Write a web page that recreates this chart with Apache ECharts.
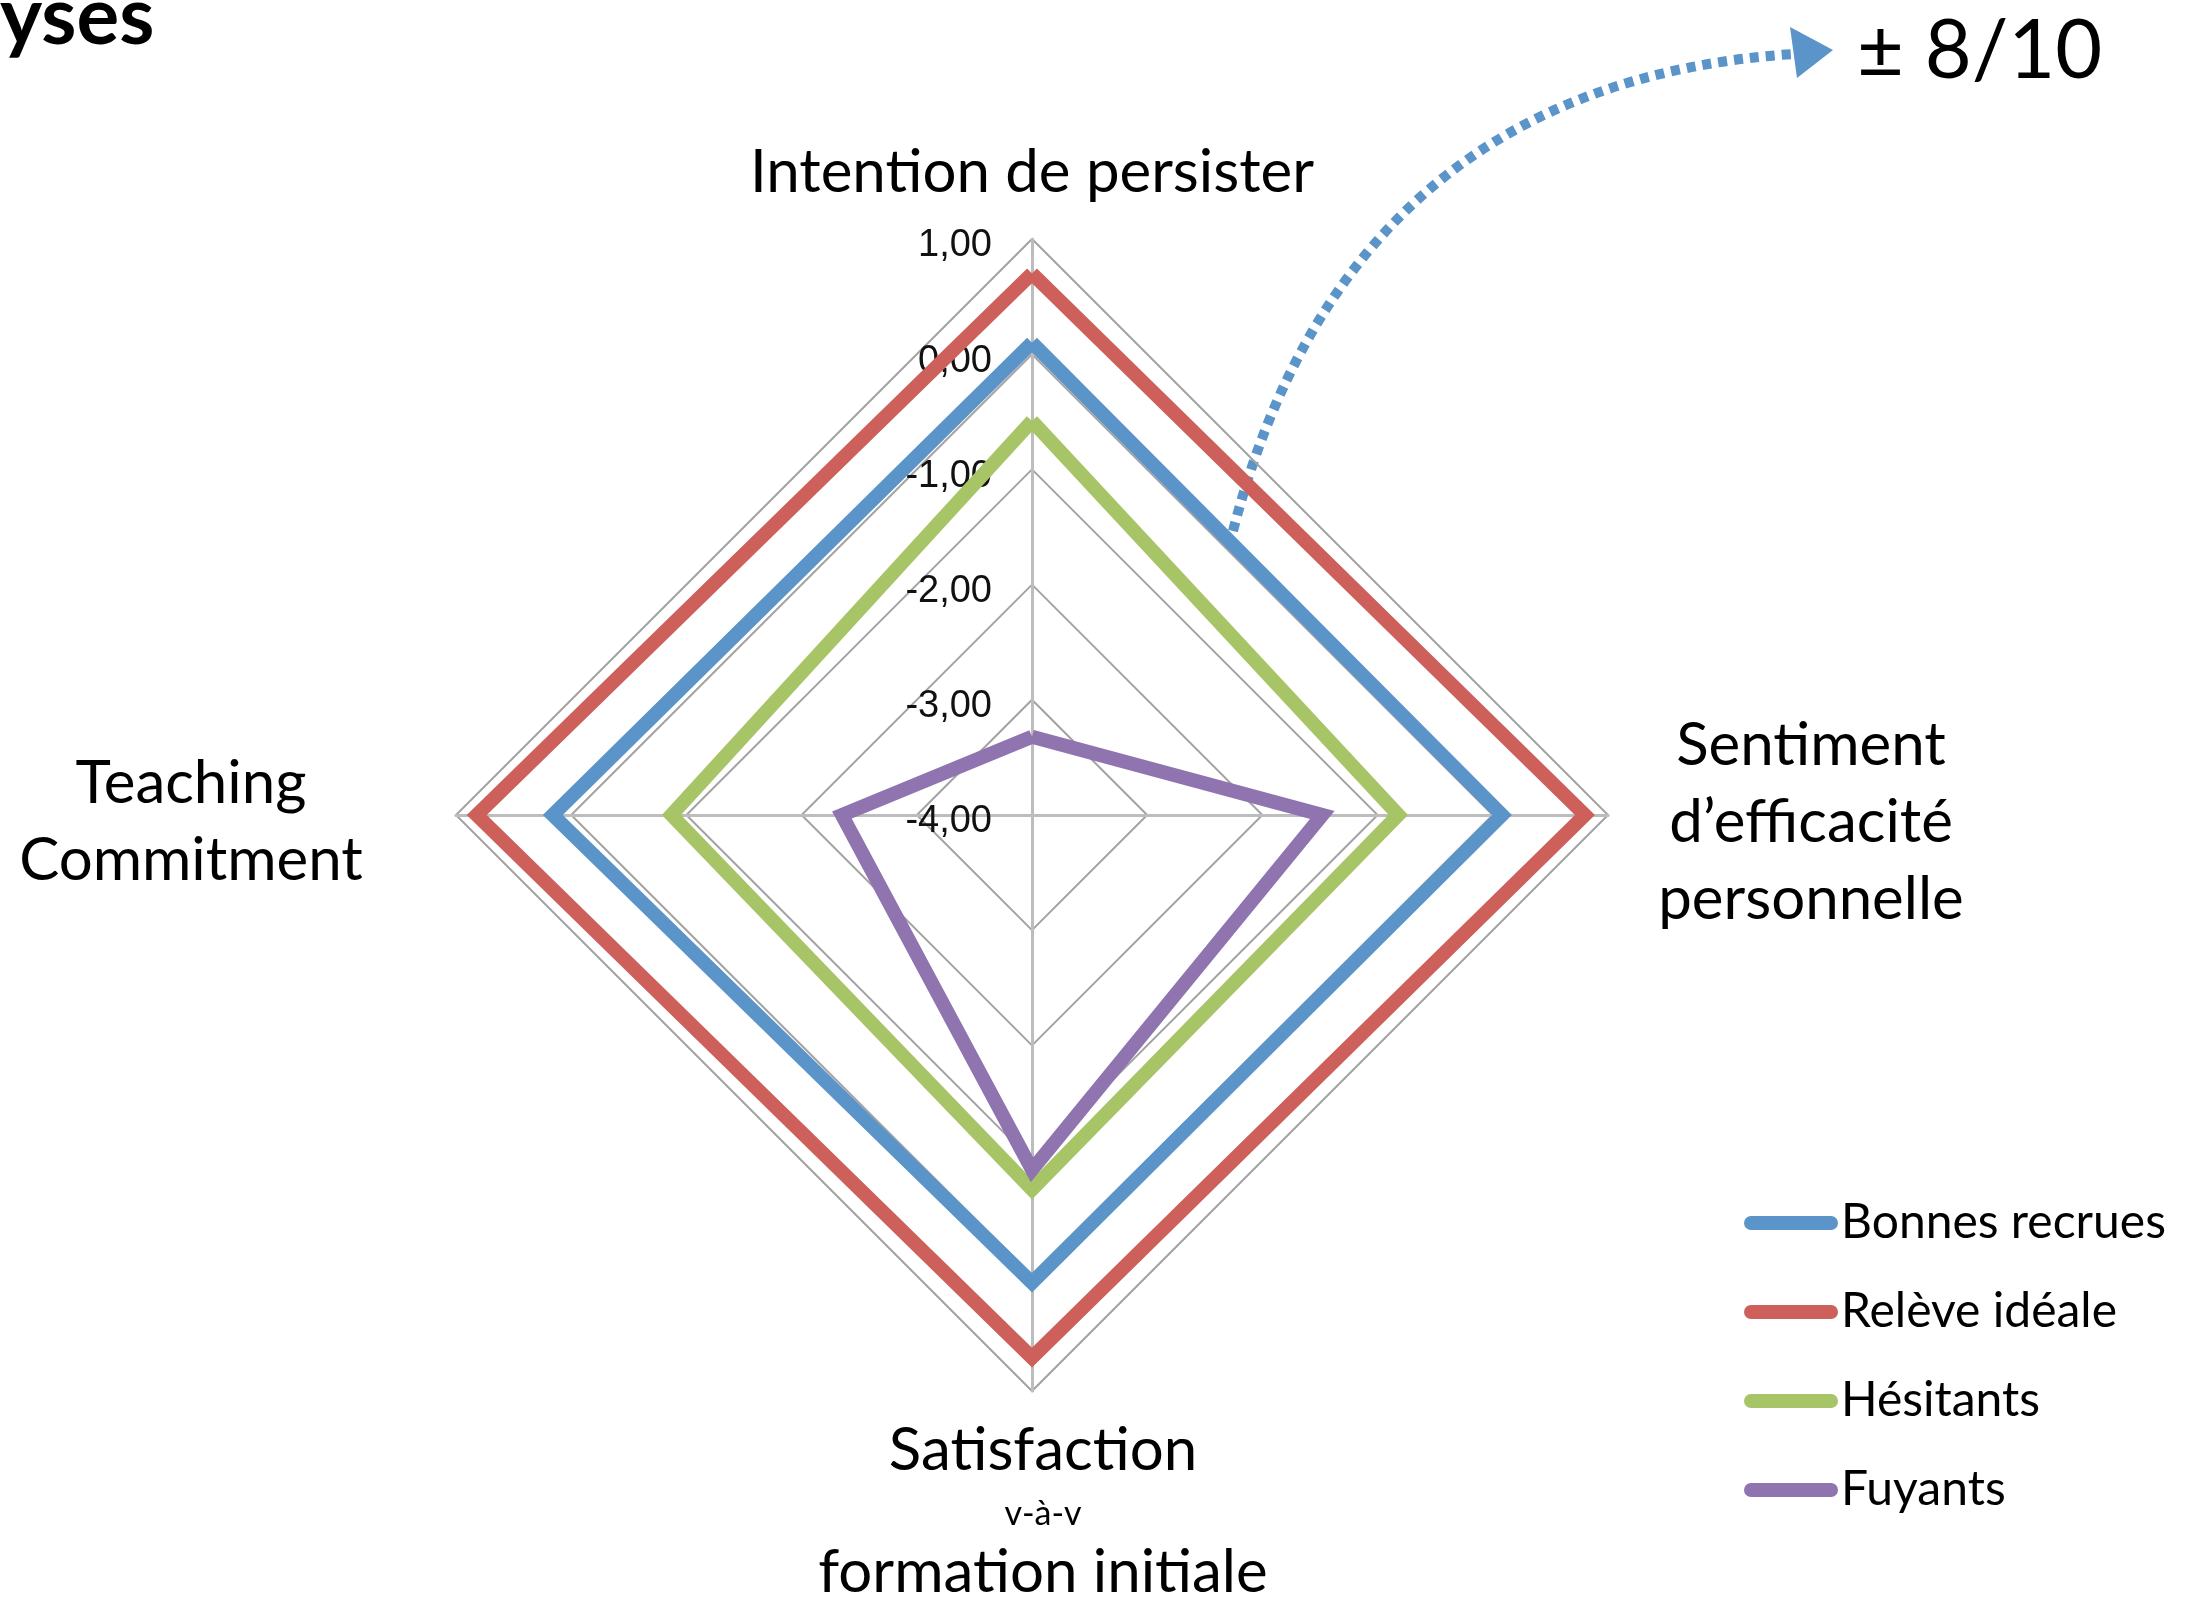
<!DOCTYPE html>
<html>
<head>
<meta charset="utf-8">
<script src="https://cdn.jsdelivr.net/npm/echarts@6/dist/echarts.min.js"></script>
<style>
  html, body { margin: 0; padding: 0; background: #fff; }
  #chart { width: 2202px; height: 1600px; }
</style>
</head>
<body>
<div id="chart"></div>
<script>
// axes, in radar order (top, left, bottom, right)
const indicatorNames = [
  'Intention de persister',
  'Teaching\nCommitment',
  'Satisfaction\nv-à-v\nformation initiale',
  'Sentiment\nd’efficacité\npersonnelle'
]
const axisMin = -4
const axisMax = 1

const seriesNames = ['Bonnes recrues', 'Relève idéale', 'Hésitants', 'Fuyants']
const seriesColors = ['#5b94c9', '#cd605a', '#a7c466', '#8f74b0']

const bonnesRecrues = [0.10, 0.16, 0.06, 0.08]
const releveIdeale = [0.70, 0.82, 0.71, 0.80]
const hesitants = [-0.58, -0.87, -0.75, -0.82]
const fuyants = [-3.32, -2.35, -0.92, -1.48]

const seriesValues = [bonnesRecrues, releveIdeale, hesitants, fuyants]

const chart = echarts.init(document.getElementById('chart'))

// name styles per axis (line keys)
const nameKeys = [
  ['t'],
  ['l', 'l'],
  ['b1', 's', 'b2'],
  ['r', 'r', 'r']
]

const nameFont = { fontFamily: 'Lato', fontSize: 60, color: '#000', align: 'center' }

const option = {
  animation: false,
  backgroundColor: '#fff',
  legend: {
    orient: 'vertical',
    left: 1739,
    top: 1194,
    itemWidth: 94,
    itemHeight: 14,
    itemGap: 41,
    icon: 'path://M7,0 H87 A7,7 0 0 1 87,14 H7 A7,7 0 0 1 7,0 Z',
    textStyle: {
      fontFamily: 'Lato',
      fontSize: 48,
      color: '#000',
      lineHeight: 48,
      padding: [0, 0, 0, -2]
    },
    data: seriesNames
  },
  radar: {
    center: [1032, 815],
    radius: 576,
    startAngle: 90,
    shape: 'polygon',
    splitNumber: 5,
    nameGap: 30,
    indicator: indicatorNames.map((name, i) => ({
      name: name,
      min: axisMin,
      max: axisMax,
      axisLabel: { show: i === 0 }
    })),
    axisName: {
      color: '#000',
      formatter: (value) => {
        const idx = indicatorNames.indexOf(value)
        return value.split('\n').map((line, j) => '{' + nameKeys[idx][j] + '|' + line + '}').join('\n')
      },
      rich: {
        t: { ...nameFont, lineHeight: 72, padding: [0, 0, 0, 0] },
        l: { ...nameFont, lineHeight: 77, width: 470, padding: [14, 0, 0, 0] },
        r: { ...nameFont, lineHeight: 77, width: 346, padding: [16, 0, 0, 0] },
        b1: { ...nameFont, lineHeight: 60, width: 420, padding: [0, 0, 0, 22] },
        s: { ...nameFont, fontSize: 34, lineHeight: 66, width: 420, padding: [0, 0, 0, 22] },
        b2: { ...nameFont, lineHeight: 52, width: 420, padding: [0, 0, 0, 22] }
      }
    },
    axisLabel: {
      show: true,
      margin: 40,
      color: '#111',
      formatter: (v) => '{v|' + v.toFixed(2).replace('.', ',') + '}',
      rich: {
        v: {
          fontFamily: 'Liberation Sans',
          fontSize: 38,
          color: '#111',
          lineHeight: 40,
          padding: [14, 0, 0, 0]
        }
      }
    },
    axisTick: { show: false },
    axisLine: { lineStyle: { color: '#bdbdbd', width: 3 } },
    splitLine: { lineStyle: { color: '#a3a3a3', width: 2 } },
    splitArea: { show: false }
  },
  graphic: [
    {
      type: 'text',
      left: 0,
      top: -22,
      style: {
        text: 'yses',
        fontFamily: 'Lato',
        fontWeight: 'bold',
        fontSize: 80,
        fill: '#000'
      }
    },
    {
      type: 'text',
      x: 1857,
      y: 52,
      style: {
        text: '± 8/10',
        fontFamily: 'Lato',
        fontSize: 81,
        fill: '#000',
        verticalAlign: 'middle'
      }
    },
    {
      type: 'bezierCurve',
      shape: { x1: 1233, y1: 531, cpx1: 1348, cpy1: 84, x2: 1793, y2: 54 },
      style: { stroke: '#5b94c9', lineWidth: 10, lineDash: [9, 7], fill: null }
    },
    {
      type: 'polygon',
      shape: { points: [[1833, 50], [1790, 27], [1797, 78]] },
      style: { fill: '#5b94c9' }
    }
  ],
  series: seriesNames.map((name, i) => ({
    name: name,
    type: 'radar',
    symbol: 'none',
    lineStyle: { color: seriesColors[i], width: 14, join: 'miter' },
    itemStyle: { color: seriesColors[i] },
    data: [{ value: seriesValues[i], name: name }]
  }))
}

chart.setOption(option)
</script>
</body>
</html>
